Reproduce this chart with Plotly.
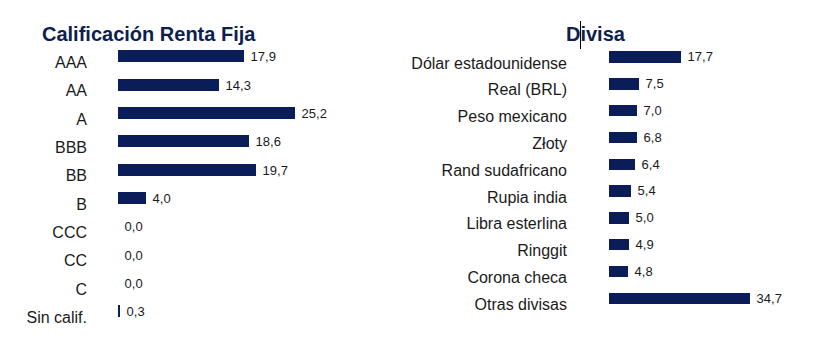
import plotly.graph_objects as go

rating_cats = ["AAA", "AA", "A", "BBB", "BB", "B", "CCC", "CC", "C", "Sin calif."]
rating_vals = [17.9, 14.3, 25.2, 18.6, 19.7, 4.0, 0.0, 0.0, 0.0, 0.3]

currency_cats = ["Dólar estadounidense", "Real (BRL)", "Peso mexicano", "Złoty",
                 "Rand sudafricano", "Rupia india", "Libra esterlina", "Ringgit",
                 "Corona checa", "Otras divisas"]
currency_vals = [17.7, 7.5, 7.0, 6.8, 6.4, 5.4, 5.0, 4.9, 4.8, 34.7]

NAVY = "#0a1d58"
TXT = "#1a1a1a"
FONT = "Liberation Sans, Arial, sans-serif"
W, H = 822, 349

def fx(px):
    return px / W

def fy(px):
    return 1 - px / H

fig = go.Figure()

fig.add_trace(go.Bar(
    x=rating_vals, y=rating_cats, orientation="h",
    marker=dict(color=NAVY, line=dict(width=0)),
    width=0.42, offset=-0.42,
    text=rating_vals, texttemplate=" %{x:.1f}", textposition="outside",
    constraintext="none",
    textfont=dict(size=13, color=TXT, family=FONT), cliponaxis=False,
    xaxis="x", yaxis="y", hoverinfo="skip",
))

fig.add_trace(go.Bar(
    x=currency_vals, y=currency_cats, orientation="h",
    marker=dict(color=NAVY, line=dict(width=0)),
    width=0.43, offset=-0.45,
    text=currency_vals, texttemplate=" %{x:.1f}", textposition="outside",
    constraintext="none",
    textfont=dict(size=13, color=TXT, family=FONT), cliponaxis=False,
    xaxis="x2", yaxis="y2", hoverinfo="skip",
))

L_T, L_B = 48.3, 331.7
R_T, R_B = 49.6, 317.6

fig.update_layout(
    width=W, height=H,
    margin=dict(l=0, r=0, t=0, b=0),
    paper_bgcolor="white", plot_bgcolor="white",
    separators=",.",
    showlegend=False,
    bargap=0,
    font=dict(family=FONT, color=TXT),
    xaxis=dict(domain=[fx(118), fx(390)], range=[0, 272 / 7.03],
               visible=False, fixedrange=True),
    yaxis=dict(domain=[fy(L_B), fy(L_T)], anchor="x", type="category",
               categoryorder="array", categoryarray=rating_cats,
               range=[9.5, -0.5], showgrid=False, zeroline=False, showline=False,
               ticks="", ticklabelstandoff=30,
               tickfont=dict(size=16, color=TXT, family=FONT)),
    xaxis2=dict(domain=[fx(609), fx(815)], range=[0, 206 / 4.05],
                visible=False, fixedrange=True, anchor="y2"),
    yaxis2=dict(domain=[fy(R_B), fy(R_T)], anchor="x2", type="category",
                categoryorder="array", categoryarray=currency_cats,
                range=[9.5, -0.5], showgrid=False, zeroline=False, showline=False,
                ticks="", ticklabelstandoff=41,
                tickfont=dict(size=16, color=TXT, family=FONT)),
    annotations=[
        dict(text="<b>Calificación Renta Fija</b>", x=fx(40), y=fy(34),
             xref="paper", yref="paper", xanchor="left", yanchor="middle",
             showarrow=False, font=dict(size=20, color="#0d1e50", family=FONT)),
        dict(text="<b>Divisa</b>", x=fx(595.5), y=fy(34),
             xref="paper", yref="paper", xanchor="center", yanchor="middle",
             showarrow=False, font=dict(size=20, color="#0d1e50", family=FONT)),
    ],
    shapes=[
        dict(type="line", xref="paper", yref="paper",
             x0=fx(580.5), x1=fx(580.5), y0=fy(21), y1=fy(49),
             line=dict(color="#000000", width=1)),
    ],
)

fig.write_html("out.html")
